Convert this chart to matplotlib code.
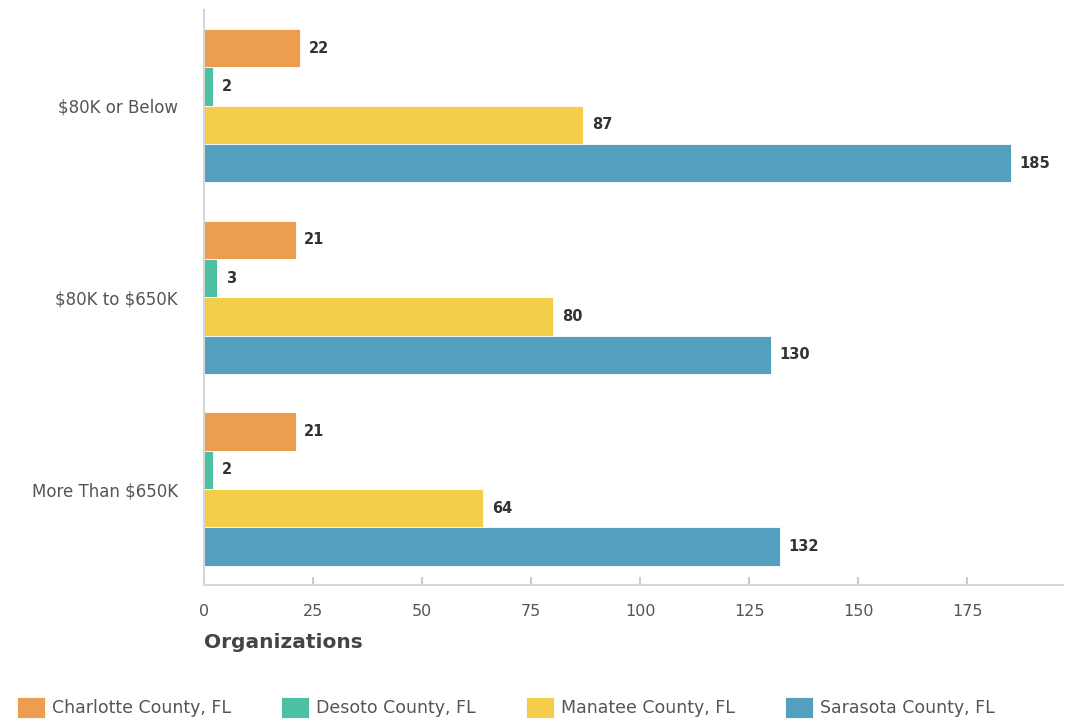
import numpy as np
import matplotlib.pyplot as plt

plt.rcParams['font.family'] = ['DejaVu Sans']

# revenue brackets and organization counts per county
categories = [r'\$80K or Below', r'\$80K to \$650K', r'More Than \$650K']
counties = ['Charlotte County, FL', 'Desoto County, FL', 'Manatee County, FL', 'Sarasota County, FL']
charlotte = [22, 21, 21]
desoto = [2, 3, 2]
manatee = [87, 80, 64]
sarasota = [185, 130, 132]

series = [charlotte, desoto, manatee, sarasota]
colors = ['#EC9D4F', '#4DBFA3', '#F4CE4B', '#529FC0']

fig = plt.figure(figsize=(10.66, 7.19), dpi=100)
ax = fig.add_axes([0.1914, 0.1864, 0.806, 0.80])

y = np.arange(len(categories))
h = 0.2
for i, (vals, col, name) in enumerate(zip(series, colors, counties)):
    pos = y - 0.4 + h * (i + 0.5)
    bars = ax.barh(pos, vals, height=h, color=col, label=name,
                   edgecolor='white', linewidth=0.6)
    for b, v in zip(bars, vals):
        ax.text(b.get_width() + 2.0, b.get_y() + b.get_height() / 2, str(v),
                va='center', ha='left', fontsize=10.5, fontweight='bold', color='#333333')

ax.set_ylim(2.5, -0.5)
ax.set_xlim(0, 197)
ax.set_yticks(y)
ax.set_yticklabels(categories, fontsize=12, color='#555555')
ax.set_xticks(np.arange(0, 176, 25))
ax.tick_params(axis='x', colors='#cccccc', labelcolor='#555555', labelsize=11.5,
               length=6, width=1.5, direction='in', pad=14)
ax.tick_params(axis='y', length=0, pad=19)

for s in ['top', 'right']:
    ax.spines[s].set_visible(False)
for s in ['left', 'bottom']:
    ax.spines[s].set_color('#d6d6d6')
    ax.spines[s].set_linewidth(1.5)

ax.set_xlabel('Organizations', fontsize=14.5, fontweight='bold', color='#444444',
              loc='left', labelpad=10)

fig.legend(loc='lower left', bbox_to_anchor=(0.0015, -0.02), ncol=4, frameon=False,
           fontsize=12.5, labelcolor='#555555', handlelength=1.6, handleheight=1.5,
           columnspacing=2.9, handletextpad=0.4)

fig.savefig('out.png', dpi=100)
